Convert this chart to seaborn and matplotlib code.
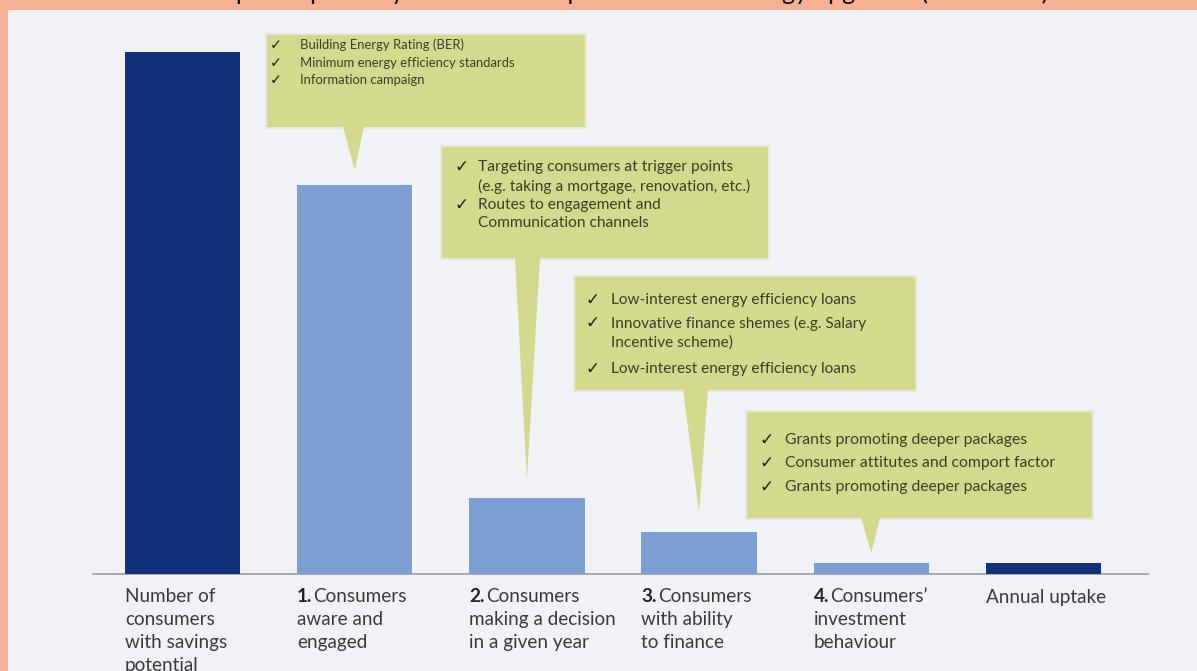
import matplotlib
matplotlib.use("Agg")
import matplotlib.pyplot as plt
from matplotlib.patches import Rectangle, Polygon
import seaborn as sns

# ---------------- data ----------------
categories = [
    "Number of consumers with savings potential",
    "Consumers aware and engaged",
    "Consumers making a decision in a given year",
    "Consumers with ability to finance",
    "Consumers' investment behaviour",
    "Annual uptake",
]
values = [100, 74.5, 14.6, 8.0, 2.1, 2.1]
bar_colors = ["#13317B", "#7C9FD3", "#7C9FD3", "#7C9FD3", "#7C9FD3", "#13317B"]

label_nums = ["", "1.", "2.", "3.", "4.", ""]
label_lines = [
    ["Number of", "consumers", "with savings", "potential"],
    [" Consumers", "aware and", "engaged"],
    [" Consumers", "making a decision", "in a given year"],
    [" Consumers", "with ability", "to finance"],
    [" Consumers\u2019", "investment", "behaviour"],
    ["Annual uptake"],
]

callout_lines = [
    [("\u2713", "Building Energy Rating (BER)"),
     ("\u2713", "Minimum energy efficiency standards"),
     ("\u2713", "Information campaign")],
    [("\u2713", "Targeting consumers at trigger points"),
     ("", "(e.g. taking a mortgage, renovation, etc.)"),
     ("\u2713", "Routes to engagement and"),
     ("", "Communication channels")],
    [("\u2713", "Low-interest energy efficiency loans"),
     ("\u2713", "Innovative finance shemes (e.g. Salary"),
     ("", "Incentive scheme)"),
     ("\u2713", "Low-interest energy efficiency loans")],
    [("\u2713", "Grants promoting deeper packages"),
     ("\u2713", "Consumer attitutes and comport factor"),
     ("\u2713", "Grants promoting deeper packages")],
]
callout_targets = [1, 2, 3, 4]   # which bar each callout points at

title_text = "Simplified pathway of consumer uptake of home energy upgrades (illustrative)"

# ---------------- layout (pixels) ----------------
W, H = 1197, 671
PEACH = "#F6B195"
PANEL = "#F0F2F5"
BOX = "#D3D98D"
BOX_TXT = "#3C3D25"
LBL_TXT = "#3A3A3A"

box_rects = [(267, 35, 585, 127), (442, 147, 768, 258),
             (575, 277, 915, 390), (747, 412, 1092, 518)]
box_bases = [(343, 364), (515, 540), (683, 708), (861, 880)]
tip_gaps = [15, 18, 20, 10]
box_line_y = [[45, 63, 80], [167, 186, 205, 223],
              [300, 323, 343, 369], [440, 463, 487]]
box_check_x = [276, 462, 592, 767]
box_text_x = [300, 478, 611, 785]
box_fs = [9.4, 11.2, 11.1, 11.3]

sns.set_theme(style="white")
plt.rcParams["font.family"] = ["Lato", "DejaVu Sans"]

fig = plt.figure(figsize=(W / 100, H / 100), dpi=100)
fig.patch.set_facecolor(PEACH)
fig.patches.append(Rectangle((8 / W, 0), 1, 1 - 10 / H, transform=fig.transFigure,
                             facecolor=PANEL, edgecolor="none", zorder=-5))


def fx(x):
    return x / W


def fy(y):
    return 1 - y / H


# axes: x from 93 to 1148 px, baseline at 574 px, top at 0
ax = fig.add_axes([fx(93), fy(574), (1148 - 93) / W, 574 / H])
ax.set_facecolor("none")

sns.barplot(x=categories, y=values, hue=categories, palette=bar_colors,
            legend=False, width=0.67, saturation=1, ax=ax, zorder=2,
            edgecolor="none", linewidth=0)
ax.set_xlim(-0.52, 5.607)
ax.set_ylim(0, 110)
for s in ["top", "right", "left"]:
    ax.spines[s].set_visible(False)
ax.spines["bottom"].set_color("#A0A3A8")
ax.spines["bottom"].set_linewidth(1.3)
ax.spines["bottom"].set_zorder(1)
ax.set_xticks([])
ax.set_yticks([])
ax.set_xlabel("")
ax.set_ylabel("")

# title (cropped at the top edge like the reference: only descenders visible)
fig.text(0.52, fy(0.5), title_text, ha="center", va="baseline", fontsize=18,
         color="#111111", zorder=1)

renderer = fig.canvas.get_renderer()
to_fig = fig.transFigure.inverted()

# callouts
for k, (x0, y0, x1, y1) in enumerate(box_rects):
    bi = callout_targets[k]
    tip_disp = ax.transData.transform((bi, values[bi]))
    tip = to_fig.transform((tip_disp[0], tip_disp[1] + tip_gaps[k]))
    bx0, bx1 = box_bases[k]
    # soft glow
    fig.patches.append(Rectangle((fx(x0 - 2), fy(y1 + 2)), (x1 - x0 + 4) / W,
                                 (y1 - y0 + 4) / H, transform=fig.transFigure,
                                 facecolor="#E6E8DC", edgecolor="none", zorder=2.5))
    fig.patches.append(Rectangle((fx(x0), fy(y1)), (x1 - x0) / W, (y1 - y0) / H,
                                 transform=fig.transFigure, facecolor=BOX,
                                 edgecolor="none", zorder=3))
    fig.patches.append(Polygon([(fx(bx0), fy(y1) + 0.001), (fx(bx1), fy(y1) + 0.001),
                                (tip[0], tip[1])], closed=True,
                               transform=fig.transFigure, facecolor=BOX,
                               edgecolor="none", zorder=3))
    for (chk, txt), ly in zip(callout_lines[k], box_line_y[k]):
        if chk:
            fig.text(fx(box_check_x[k]), fy(ly), chk, ha="center", va="center",
                     fontsize=box_fs[k] + 1.0, color="#1E1E12", family=["DejaVu Sans"],
                     fontweight="bold", zorder=4)
        fig.text(fx(box_text_x[k]), fy(ly), txt, ha="left", va="center",
                 fontsize=box_fs[k], color=BOX_TXT, zorder=4)

# category labels under the bars
lab_fs = 13.6
line_h = 22.8
for i, bar in enumerate(ax.patches[:len(categories)]):
    xd = to_fig.transform(ax.transData.transform((bar.get_x(), 0)))[0]
    ytop = 597
    xstart = xd
    if label_nums[i]:
        t = fig.text(xd, fy(ytop), label_nums[i], ha="left", va="center",
                     fontsize=lab_fs, fontweight="bold", color="#222222")
        ext = t.get_window_extent(renderer=renderer)
        xstart = xd + ext.width / W + 0.001
    for j, line in enumerate(label_lines[i]):
        xx = xstart if j == 0 else xd
        fig.text(xx, fy(ytop + j * line_h), line.lstrip() if j == 0 else line,
                 ha="left", va="center", fontsize=lab_fs, color=LBL_TXT)

fig.savefig("out.png", dpi=100, facecolor=fig.get_facecolor())
